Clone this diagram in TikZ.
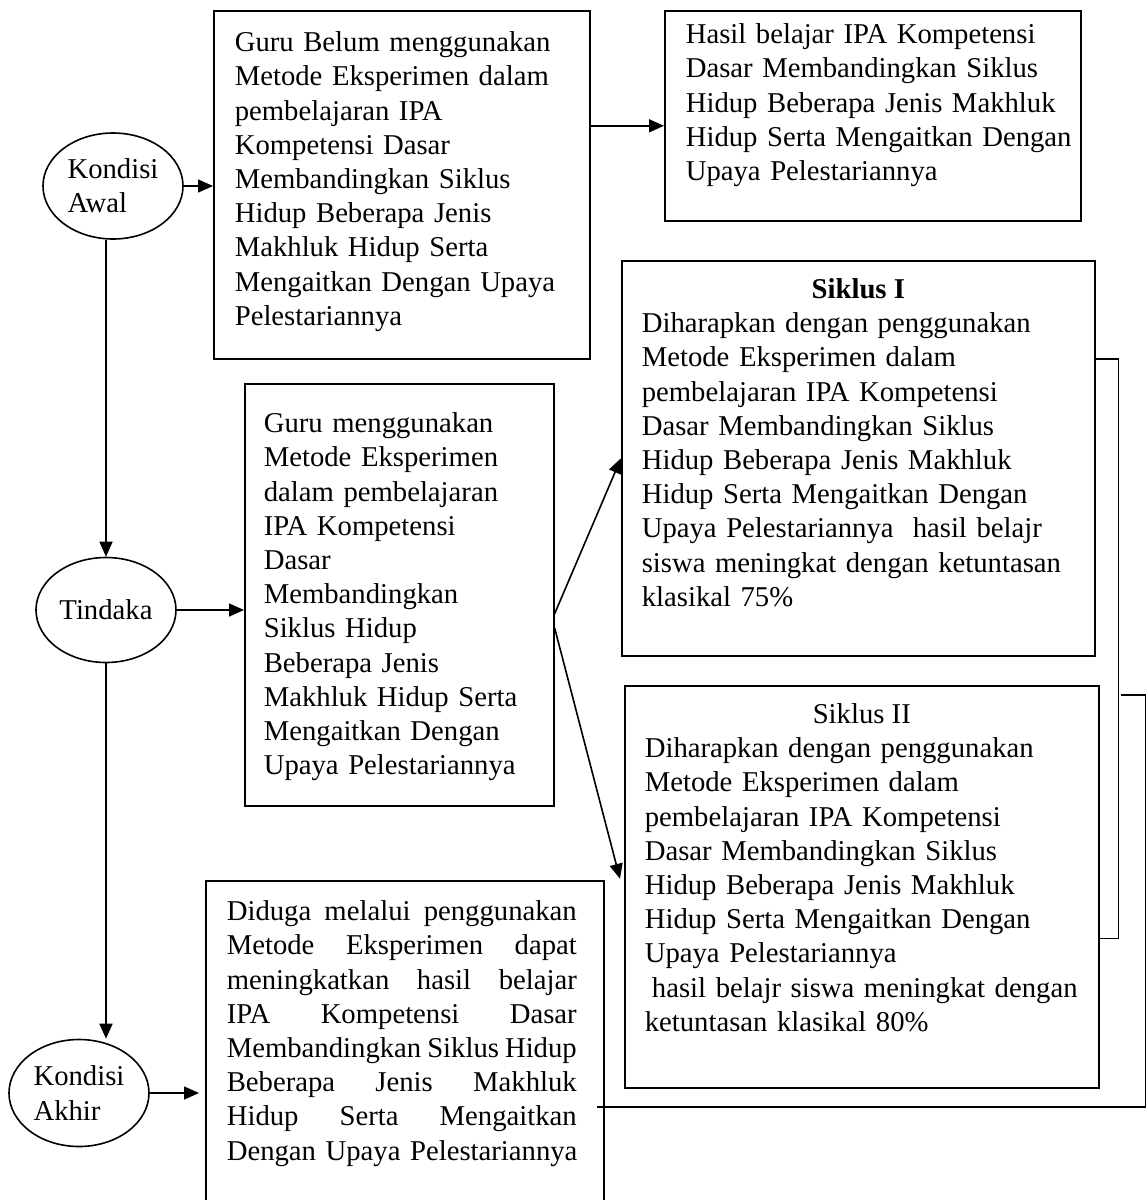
\documentclass[tikz,border=0pt]{standalone}
\usepackage{fontspec}
\setmainfont{Liberation Serif}
\usetikzlibrary{arrows.meta,calc,shapes.geometric}

\newcommand{\bodyfont}{\fontsize{28.7pt}{34.2pt}\selectfont}
\newcommand{\jline}[1]{\makebox[350pt][s]{#1}}

\begin{document}
\begin{tikzpicture}[x=1pt,y=-1pt,line width=1.6pt,
	>={Triangle[length=15pt,width=13pt]},
	frame/.style={draw,rectangle,anchor=north west,inner sep=0pt},
	oval/.style={draw,ellipse,inner sep=0pt,minimum width=140pt,minimum height=106pt,align=left,font=\bodyfont},
	txt/.style={anchor=north west,inner sep=0pt,align=left,font=\bodyfont}]

\useasboundingbox (0,0) rectangle (1148,1200);

% boxes
\node[frame,minimum width=376pt,minimum height=348pt] (boxA) at (213,10) {};
\node[frame,minimum width=416pt,minimum height=210pt] (boxB) at (664,10) {};
\node[frame,minimum width=473pt,minimum height=395pt] (siklus1) at (621,260) {};
\node[frame,minimum width=474pt,minimum height=402pt] (siklus2) at (624,685) {};
\node[frame,minimum width=309pt,minimum height=422pt] (boxT) at (244,383) {};
\node[frame,minimum width=398pt,minimum height=340pt] (diduga) at (205,880) {};

% ovals
\node[oval] (awal) at (113,186) {Kondisi\\Awal};
\node[oval,minimum height=105pt] (tindaka) at (106,610) {Tindaka};
\node[oval,minimum height=107pt] (akhir) at (79,1093) {Kondisi\\Akhir};

% texts
\node[txt,text width=360pt] (tA) at ($(boxA.north west)+(21,21)$) {Guru Belum menggunakan\\
Metode Eksperimen dalam\\
pembelajaran IPA\\
Kompetensi Dasar\\
Membandingkan Siklus\\
Hidup Beberapa Jenis\\
Makhluk Hidup Serta\\
Mengaitkan Dengan Upaya\\
Pelestariannya};

\node[txt,text width=400pt] (tB) at ($(boxB.north west)+(21,13)$) {Hasil belajar IPA Kompetensi\\
Dasar Membandingkan Siklus\\
Hidup Beberapa Jenis Makhluk\\
Hidup Serta Mengaitkan Dengan\\
Upaya Pelestariannya};

\node[txt,anchor=north] (h1) at ($(siklus1.north)+(0,18)$) {\textbf{Siklus I}};
\node[txt,text width=460pt] (t1) at ($(siklus1.north west)+(20,52)$) {Diharapkan dengan penggunakan\\
Metode Eksperimen dalam\\
pembelajaran IPA Kompetensi\\
Dasar Membandingkan Siklus\\
Hidup Beberapa Jenis Makhluk\\
Hidup Serta Mengaitkan Dengan\\
Upaya Pelestariannya\ \ hasil belajr\\
siswa meningkat dengan ketuntasan\\
klasikal 75\%};

\node[txt,anchor=north] (h2) at ($(siklus2.north)+(0,18)$) {Siklus II};
\node[txt,text width=460pt] (t2) at ($(siklus2.north west)+(20,52)$) {Diharapkan dengan penggunakan\\
Metode Eksperimen dalam\\
pembelajaran IPA Kompetensi\\
Dasar Membandingkan Siklus\\
Hidup Beberapa Jenis Makhluk\\
Hidup Serta Mengaitkan Dengan\\
Upaya Pelestariannya\\
\hspace*{0.25em}hasil belajr siswa meningkat dengan\\
ketuntasan klasikal 80\%};

\node[txt,text width=300pt] (tT) at ($(boxT.north west)+(19,29)$) {Guru menggunakan\\
Metode Eksperimen\\
dalam pembelajaran\\
IPA Kompetensi\\
Dasar\\
Membandingkan\\
Siklus Hidup\\
Beberapa Jenis\\
Makhluk Hidup Serta\\
Mengaitkan Dengan\\
Upaya Pelestariannya};

\node[txt,text width=380pt] (tD) at ($(diduga.north west)+(21,20)$) {\jline{Diduga\hfill melalui\hfill penggunakan}\\
\jline{Metode\hfill Eksperimen\hfill dapat}\\
\jline{meningkatkan\hfill hasil\hfill belajar}\\
\jline{IPA\hfill Kompetensi\hfill Dasar}\\
\jline{Membandingkan\hfill Siklus\hfill Hidup}\\
\jline{Beberapa\hfill Jenis\hfill Makhluk}\\
\jline{Hidup\hfill Serta\hfill Mengaitkan}\\
Dengan Upaya Pelestariannya};

% arrows
\draw[->] (awal) -- (awal -| boxA.west);
\draw[->] ($(boxA.east |- boxB.west)+(0,10)$) -- ($(boxB.west)+(0,10)$);
\draw[->] (awal.south -| tindaka) -- (tindaka);
\draw[->] (tindaka) -- (tindaka -| boxT.west);
\draw[->] (tindaka) -- (tindaka |- akhir.north);
\draw[->] (akhir) -- ($(akhir -| diduga.west)+(-6,0)$);
\draw[->] ($(boxT.east)+(0,19)$) -- (siklus1.west);
\draw[->] ($(boxT.east)+(0,33)$) -- ($(siklus2.west)+(-4,-8)$);

% bracket
\draw ($(siklus1.north east)+(0,99)$) -- ++(23,0) |- ($(siklus2.south east)+(0,-150)$);
\draw ($(siklus1.north east)+(25,435)$) -- ++(25,0) |- ($(diduga.north east)+(-8,227)$);

\end{tikzpicture}
\end{document}
